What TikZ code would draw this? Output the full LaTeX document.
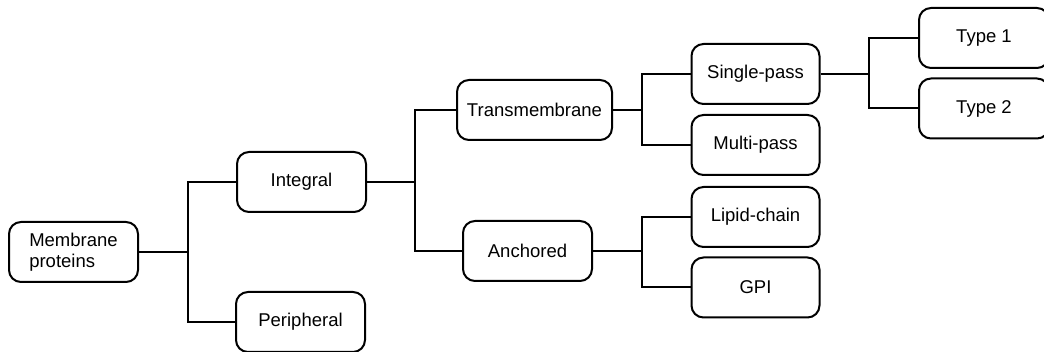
\documentclass[tikz,border=0pt]{standalone}
\usepackage{fontspec}
\setmainfont{Liberation Sans}
\begin{document}
\begin{tikzpicture}[x=1pt,y=-1pt,
  box/.style={draw=black,line width=2pt,rounded corners=12pt,minimum height=60pt,inner sep=0pt,font=\fontsize{18.5}{21}\selectfont,fill=white},
  link/.style={draw=black,line width=2pt}]
\useasboundingbox (0,0) rectangle (1044,352);
\node[box,minimum width=129pt,align=left] (mem) at (73.5,252) {Membrane\\proteins};
\node[box,minimum width=129pt] (int) at (301.5,182) {Integral};
\node[box,minimum width=129pt] (per) at (300.5,322) {Peripheral};
\node[box,minimum width=155pt] (tm) at (534.5,110) {Transmembrane};
\node[box,minimum width=129pt] (anc) at (527.5,251) {Anchored};
\node[box,minimum width=128pt] (sp) at (755.5,74) {Single-pass};
\node[box,minimum width=128pt] (mp) at (755.5,145) {Multi-pass};
\node[box,minimum width=128pt] (lc) at (755.5,217) {Lipid-chain};
\node[box,minimum width=128pt] (gpi) at (755.5,287.5) {GPI};
\node[box,minimum width=130pt] (t1) at (984,38) {Type 1};
\node[box,minimum width=130pt] (t2) at (984,108.5) {Type 2};
\coordinate (b1) at (188,252);
\coordinate (b2) at (415,182);
\coordinate (b3) at (642,110);
\coordinate (b4) at (642,251);
\coordinate (b5) at (869,74);
\draw[link] (mem.east) -- (b1);
\draw[link] (b1) |- (int.west);
\draw[link] (b1) |- (per.west);
\draw[link] (int.east) -- (b2);
\draw[link] (b2) |- (tm.west);
\draw[link] (b2) |- (anc.west);
\draw[link] (tm.east) -- (b3);
\draw[link] (b3) |- (sp.west);
\draw[link] (b3) |- (mp.west);
\draw[link] (anc.east) -- (b4);
\draw[link] (b4) |- (lc.west);
\draw[link] (b4) |- (gpi.west);
\draw[link] (sp.east) -- (b5);
\draw[link] (b5) |- (t1.west);
\draw[link] (b5) |- (t2.west);
\end{tikzpicture}
\end{document}
